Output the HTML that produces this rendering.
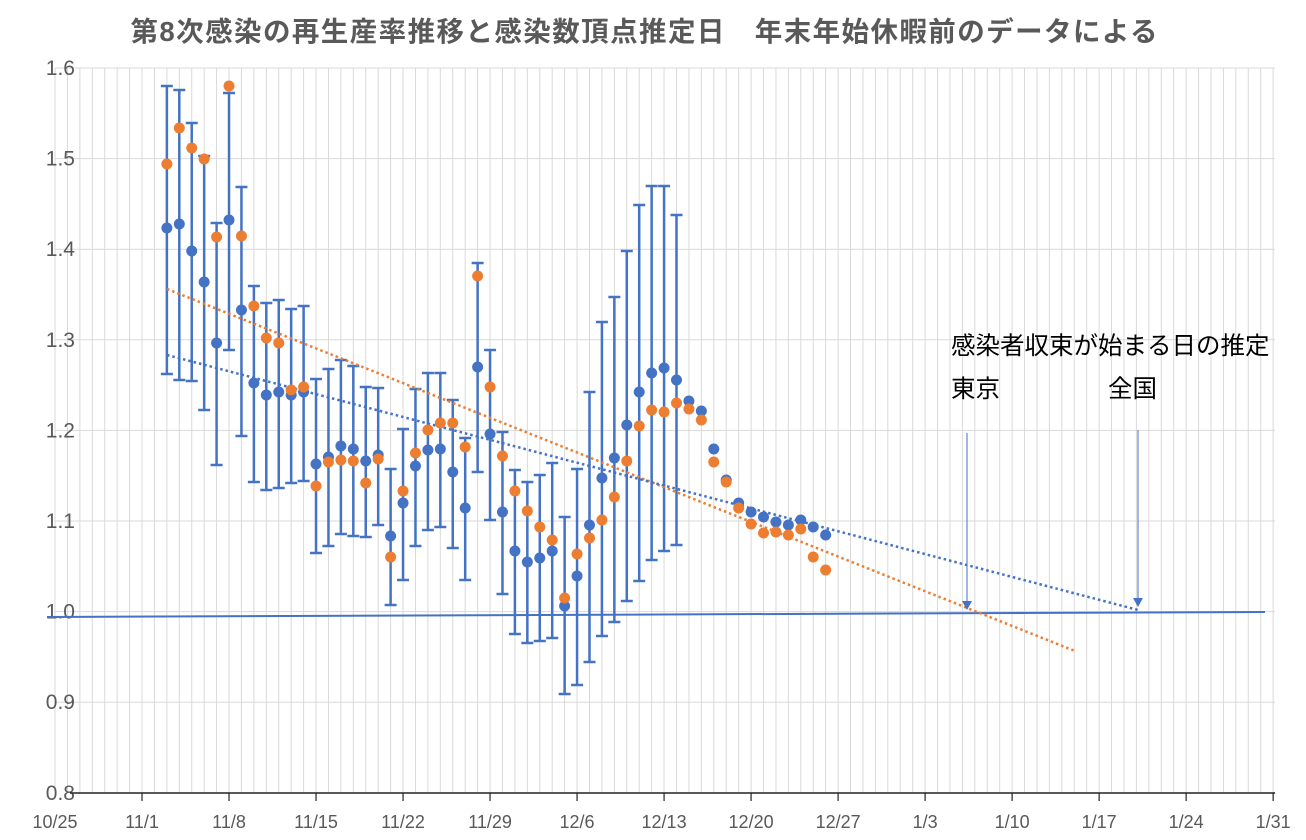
<!DOCTYPE html>
<html><head><meta charset="utf-8"><style>
html,body{margin:0;padding:0;background:#fff;}
svg{display:block;font-family:"Liberation Sans","Noto Sans CJK JP",sans-serif;}
</style></head><body>
<svg id="c" width="1306" height="840" viewBox="0 0 1306 840" xmlns="http://www.w3.org/2000/svg">
<text x="644" y="41" text-anchor="middle" font-size="27.5" font-weight="bold" fill="#595959" textLength="1027" lengthAdjust="spacing">第8次感染の再生産率推移と感染数頂点推定日　年末年始休暇前のデータによる</text>
<g id="grid"></g>
<g id="data"></g>
<text x="951" y="354" font-size="24.5" fill="#000">感染者収束が始まる日の推定</text>
<text x="951" y="397" font-size="24.5" fill="#000">東京</text>
<text x="1108" y="397" font-size="24.5" fill="#000">全国</text>
</svg>
<script>
var ns="http://www.w3.org/2000/svg";
function el(p,t,a,txt){var e=document.createElementNS(ns,t);for(var k in a)e.setAttribute(k,a[k]);if(txt!=null)e.textContent=txt;p.appendChild(e);return e;}
var g=document.getElementById('grid'),d=document.getElementById('data');
function X(day){return 55+12.43*day;}
for(var i=0;i<=98;i++){el(g,'line',{x1:X(i),x2:X(i),y1:68,y2:793,stroke:'#d9d9d9','stroke-width':1});}
var yl=['1.6','1.5','1.4','1.3','1.2','1.1','1.0','0.9','0.8'];
for(var j=0;j<9;j++){var y=68+j*90.6;
 if(j<8)el(g,'line',{x1:55,x2:1275,y1:y,y2:y,stroke:'#d9d9d9','stroke-width':1});
 el(g,'text',{x:75,y:y+7,'text-anchor':'end','font-size':21,fill:'#595959'},yl[j]);}
el(g,'line',{x1:70,x2:1275,y1:793,y2:793,stroke:'#222','stroke-width':1.5});
var xl=['10/25','11/1','11/8','11/15','11/22','11/29','12/6','12/13','12/20','12/27','1/3','1/10','1/17','1/24','1/31'];
for(var k=0;k<15;k++){var x=X(k*7);
 if(k>0)el(g,'line',{x1:x,x2:x,y1:793,y2:801,stroke:'#222','stroke-width':1.2});
 el(g,'text',{x:x,y:828,'text-anchor':'middle','font-size':18,fill:'#595959'},xl[k]);}
el(d,'line',{x1:47,y1:617,x2:1265,y2:612,stroke:'#4472c4','stroke-width':2});
var D=[[9,228,164,86,374],[10,224,128,90,380],[11,251,148,123,381],[12,282,159,156,410],[13,343,237,223,465],[14,220,86,93,350],[15,310,236,187,436],
[16,383,306,286,482],[17,395,338,303,490],[18,392,343,300,488],[19,395,390,309,483],[20,392,387,306,481],[21,464,486,379,553],[22,457,462,369,546],[23,446,460,360,534],[24,449,461,366,536],[25,461,483,387,537],[26,455,459,388,525],[27,536,557,469,605],[28,503,491,429,580],[29,466,453,389,546],[30,450,430,373,530],[31,449,423,373,527],[32,472,423,400,548],[33,508,447,438,580],[34,367,276,263,472],[35,434,387,350,520],[36,512,456,432,594],
[37,551,491,470,634],[38,562,511,482,643],[39,558,527,475,641],[40,551,540,463,638],[41,606,598,517,694],[42,576,554,469,685],[43,525,538,392,662],[44,478,520,322,636],[45,458,497,297,622],[46,425,461,251,601],[47,392,426,205,581],[48,373,410,186,560],[49,368,412,186,551],[50,380,403,215,545],
[51,401,409],[52,411,420],[53,449,462],[54,480,482],[55,503,508],[56,512,524],[57,517,533],[58,522,532],[59,525,535],[60,520,529],[61,527,557],[62,535,570]];
D.forEach(function(r){var x=X(r[0]);
 if(r.length>3){el(d,'line',{x1:x,x2:x,y1:r[3],y2:r[4],stroke:'#4472c4','stroke-width':2.5});
  el(d,'line',{x1:x-6,x2:x+6,y1:r[3],y2:r[3],stroke:'#4472c4','stroke-width':2.5});
  el(d,'line',{x1:x-6,x2:x+6,y1:r[4],y2:r[4],stroke:'#4472c4','stroke-width':2.5});}
});
el(d,'line',{x1:167,y1:289,x2:1075,y2:651,stroke:'#ed7d31','stroke-width':2.5,'stroke-dasharray':'2.5 3'});
el(d,'line',{x1:167,y1:355,x2:1138,y2:610,stroke:'#4472c4','stroke-width':2.5,'stroke-dasharray':'2.5 3'});
D.forEach(function(r){var x=X(r[0]);
 el(d,'circle',{cx:x,cy:r[1],r:5.5,fill:'#4472c4'});
 el(d,'circle',{cx:x,cy:r[2],r:5.5,fill:'#ed7d31'});
});
[[967,433,610],[1138,430,607]].forEach(function(a){
 el(d,'line',{x1:a[0],x2:a[0],y1:a[1],y2:a[2]-8,stroke:'#4472c4','stroke-width':1});
 el(d,'polygon',{points:(a[0]-5)+','+(a[2]-9)+' '+(a[0]+5)+','+(a[2]-9)+' '+a[0]+','+a[2],fill:'#4472c4'});
});
</script>
</body></html>
